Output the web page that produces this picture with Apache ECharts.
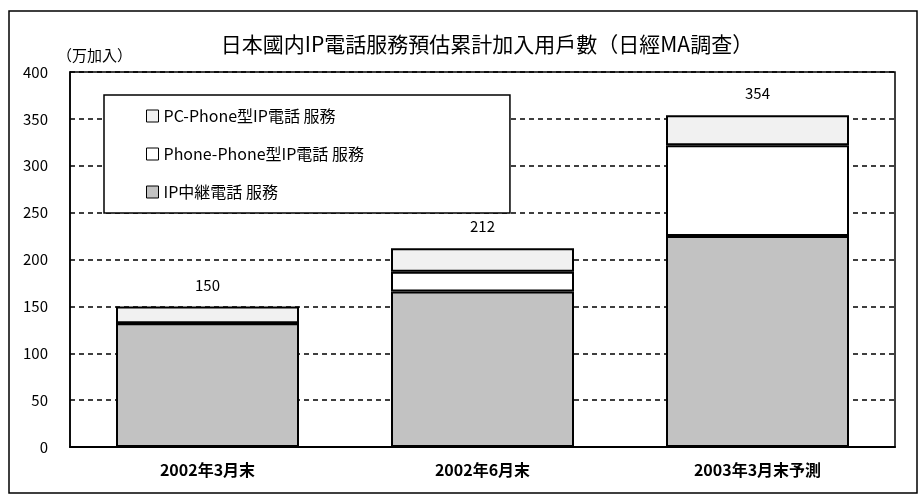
<html lang="ja">
  <head>
    <meta charset="UTF-8" />
    <title>日本國内IP電話服務預估累計加入用戶數</title>
    <style>
      body { margin: 0; background: #fff; }
      #main { width: 924px; height: 500px; }
    </style>
  </head>
  <body>
    <div id="main"></div>
    <script src="https://cdn.jsdelivr.net/npm/echarts@6/dist/echarts.min.js"></script>
    <script>
      let categories = ['2002年3月末', '2002年6月末', '2003年3月末予測']
      let relayData = [132, 166, 225]
      let phonePhoneData = [0, 21, 97]
      let pcPhoneData = [18, 25, 32]
      let yTicks = [0, 50, 100, 150, 200, 250, 300, 350, 400]

      let totals = categories.map((c, i) => relayData[i] + phonePhoneData[i] + pcPhoneData[i])
      let font = '"Noto Sans CJK JP", sans-serif'

      let myChart = echarts.init(document.getElementById('main'))
      let option = {
        animation: false,
        backgroundColor: '#fff',
        title: [
          {
            text: '日本國内IP電話服務預估累計加入用戶數（日經MA調查）',
            left: 482,
            top: 29,
            textAlign: 'center',
            textStyle: { fontFamily: font, fontSize: 21, fontWeight: 'normal', color: '#000' }
          },
          {
            text: '（万加入）',
            left: 52,
            top: 43,
            textStyle: { fontFamily: font, fontSize: 15, fontWeight: 'normal', color: '#000' }
          }
        ],
        graphic: [
          {
            type: 'rect',
            shape: { x: 9, y: 11, width: 908, height: 482 },
            style: { fill: 'none', stroke: '#000', lineWidth: 1.5 },
            z: 100
          }
        ],
        legend: {
          orient: 'vertical',
          left: 104,
          top: 95,
          padding: [13, 146, 13, 42],
          itemGap: 22,
          itemWidth: 12,
          itemHeight: 12,
          icon: 'rect',
          backgroundColor: '#fff',
          borderColor: '#000',
          borderWidth: 1.5,
          data: ['PC-Phone型IP電話 服務', 'Phone-Phone型IP電話 服務', 'IP中継電話 服務'],
          itemStyle: { borderColor: '#000', borderWidth: 1 },
          textStyle: { fontFamily: font, fontSize: 16, color: '#000' }
        },
        grid: {
          left: 70,
          right: 29,
          top: 72,
          bottom: 53,
          show: true,
          borderColor: '#000',
          borderWidth: 1.5
        },
        xAxis: {
          type: 'category',
          data: categories,
          axisLine: { lineStyle: { color: '#000', width: 2 } },
          axisTick: { inside: true, length: 6, lineStyle: { color: '#000', width: 1.5 } },
          axisLabel: { fontFamily: font, fontSize: 16, fontWeight: 'bold', color: '#000', margin: 15 }
        },
        yAxis: {
          type: 'value',
          min: yTicks[0],
          max: yTicks[yTicks.length - 1],
          interval: 50,
          axisLine: { show: true, lineStyle: { color: '#000', width: 1.5 } },
          axisTick: { show: false },
          axisLabel: { fontFamily: font, fontSize: 15, color: '#000', margin: 22 },
          splitLine: { lineStyle: { color: '#000', type: [5, 4], width: 1.5 } }
        },
        series: [
          {
            name: 'IP中継電話 服務',
            type: 'bar',
            stack: 'total',
            barWidth: 183,
            data: relayData,
            itemStyle: { color: '#c2c2c2', borderColor: '#000', borderWidth: 2 }
          },
          {
            name: 'Phone-Phone型IP電話 服務',
            type: 'bar',
            stack: 'total',
            data: phonePhoneData,
            itemStyle: { color: '#ffffff', borderColor: '#000', borderWidth: 2 }
          },
          {
            name: 'PC-Phone型IP電話 服務',
            type: 'bar',
            stack: 'total',
            data: pcPhoneData,
            itemStyle: { color: '#f1f1f1', borderColor: '#000', borderWidth: 2 },
            label: {
              show: true,
              position: 'top',
              distance: 14,
              fontFamily: font,
              fontSize: 15,
              color: '#000',
              formatter: (p) => totals[p.dataIndex]
            }
          }
        ]
      }
      myChart.setOption(option)
    </script>
  </body>
</html>
